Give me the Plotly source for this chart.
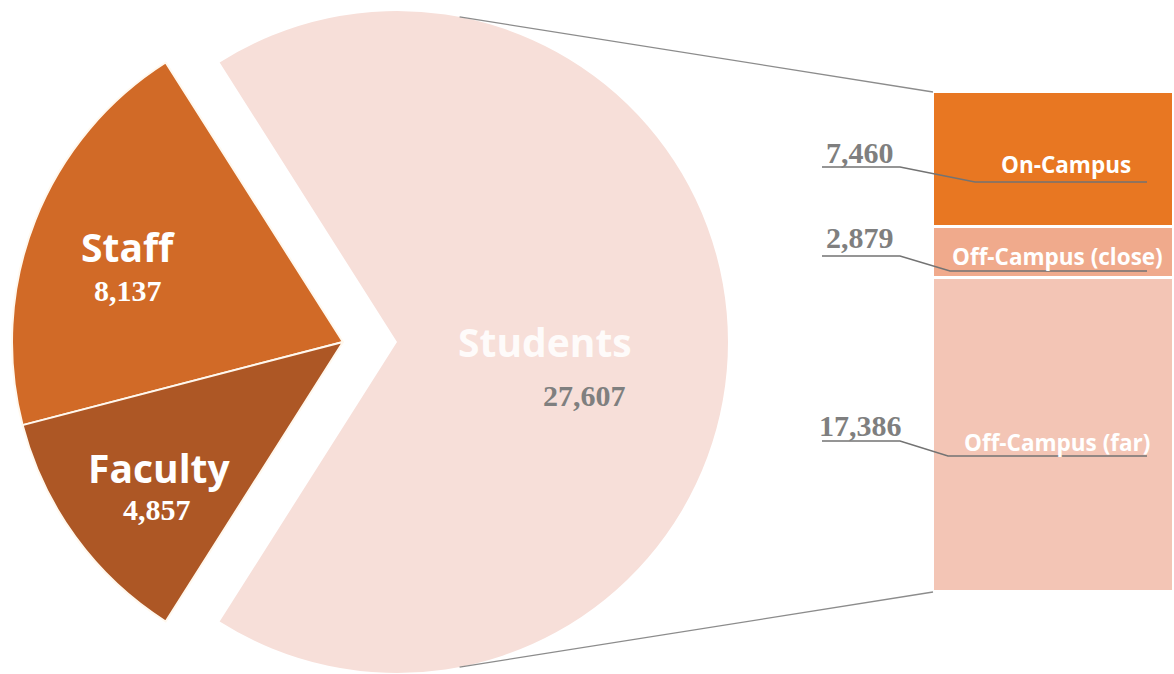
import math
import plotly.graph_objects as go

# ---------------- data ----------------
groups = ["Staff", "Faculty", "Students"]
group_values = [8137, 4857, 27607]
group_colors = ["#D16A27", "#AD5725", "#F7DFD9"]

housing = ["On-Campus", "Off-Campus (close)", "Off-Campus (far)"]
housing_values = [7460, 2879, 17386]
housing_colors = ["#E87722", "#F0AA8C", "#F3C5B5"]

W, H = 1174, 674
def px(x): return x / W
def py(y): return 1 - y / H

# pie geometry (pixels)
R = 331
CY = 342
CX_MAIN = 343      # Staff / Faculty centre
CX_STUD = 397      # exploded Students centre

total = sum(group_values)
half = (group_values[0] + group_values[1]) / total * 180.0
staff_deg = group_values[0] / total * 360.0
# plotly (ccw): first slice spans [rotation, rotation + a0] clockwise from 12 o'clock
rotation = half - 90.0 - staff_deg

TRANSP = "rgba(0,0,0,0)"

def pie_domain(cx):
    return dict(x=[px(cx - R), px(cx + R)], y=[py(CY + R), py(CY - R)])

fig = go.Figure()

# Staff + Faculty pie (Students slot transparent)
fig.add_trace(go.Pie(
    labels=groups, values=group_values, sort=False,
    direction="counterclockwise", rotation=rotation,
    marker=dict(colors=[group_colors[0], group_colors[1], TRANSP],
                line=dict(color=["#FFF8EE", "#FFF8EE", TRANSP], width=2)),
    textinfo="none", hoverinfo="label+value", showlegend=False,
    domain=pie_domain(CX_MAIN),
))
# exploded Students slice
fig.add_trace(go.Pie(
    labels=groups, values=group_values, sort=False,
    direction="counterclockwise", rotation=rotation,
    marker=dict(colors=[TRANSP, TRANSP, group_colors[2]],
                line=dict(color=TRANSP, width=0)),
    textinfo="none", hoverinfo="label+value", showlegend=False,
    domain=pie_domain(CX_STUD),
))

# stacked bar (bottom to top: far, close, on-campus)
for name, val, col in reversed(list(zip(housing, housing_values, housing_colors))):
    fig.add_trace(go.Bar(
        x=["Students"], y=[val], name=name,
        marker=dict(color=col, line=dict(color="white", width=3)),
        showlegend=False, hoverinfo="name+y",
    ))

BAR_L, BAR_T, BAR_B = 933, 92, 592
bar_total = sum(housing_values)

fig.update_layout(
    width=W, height=H,
    margin=dict(l=0, r=0, t=0, b=0),
    paper_bgcolor="white", plot_bgcolor="rgba(0,0,0,0)",
    barmode="stack", bargap=0,
    xaxis=dict(domain=[px(BAR_L), 1.0], range=[-0.5, 0.5], visible=False, fixedrange=True),
    yaxis=dict(domain=[py(BAR_B), py(BAR_T)], range=[0, bar_total], visible=False, fixedrange=True),
)

shapes = []
# connector lines from students circle to bar corners
ang = math.radians(10.9)
sx = CX_STUD + R * math.sin(ang)
sy_top = CY - R * math.cos(ang)
sy_bot = CY + R * math.cos(ang)
for (y0, y1) in [(sy_top, BAR_T), (sy_bot, BAR_B)]:
    shapes.append(dict(type="line", xref="paper", yref="paper",
                       x0=px(sx), y0=py(y0), x1=px(BAR_L), y1=py(y1),
                       line=dict(color="#8C8C8C", width=1.3)))

# leader lines under the bar values
leaders = [
    (167, 900, 975, 182),
    (256, 900, 950, 271),
    (441, 900, 948, 456),
]
for (uy, ux1, dx, dy) in leaders:
    path = f"M {px(822)},{py(uy)} L {px(ux1)},{py(uy)} L {px(dx)},{py(dy)} L {px(1147)},{py(dy)}"
    shapes.append(dict(type="path", xref="paper", yref="paper", path=path,
                       line=dict(color="#737373", width=1.6)))
fig.update_layout(shapes=shapes)

SANS = "Open Sans"
SERIF = "Liberation Serif"
ann = []
def add(text, x, y, size, color, family, xanchor="center"):
    ann.append(dict(text=text, x=px(x), y=py(y), xref="paper", yref="paper",
                    showarrow=False, xanchor=xanchor, yanchor="middle",
                    font=dict(size=size, color=color, family=family, weight="bold")))

fmt = lambda v: f"{v:,}"
# pie labels
add(groups[0], 128, 247, 39, "white", SANS)
add(fmt(group_values[0]), 128, 290, 30, "white", SERIF)
add(groups[1], 159, 467, 39, "white", SANS)
add(fmt(group_values[1]), 157, 509, 30, "white", SERIF)
add(groups[2], 545, 341, 39, "rgba(255,255,255,0.88)", SANS)
add(fmt(group_values[2]), 584, 395, 30, "#7F7F7F", SERIF)

# bar labels
bar_label_pos = [(1066, 165), (1057, 256), (1057, 442)]
value_pos = [(860, 152), (860, 237), (860, 426)]
for name, val, (lx, ly), (vx, vy) in zip(housing, housing_values, bar_label_pos, value_pos):
    add(name, lx, ly, 22.5, "white", SANS)
    add(fmt(val), vx, vy, 30, "#7F7F7F", SERIF)

fig.update_layout(annotations=ann)
fig.write_html(
    "out.html",
    config={"displayModeBar": False},
    post_script="document.body.style.margin='0';document.body.style.overflow='hidden';",
)
